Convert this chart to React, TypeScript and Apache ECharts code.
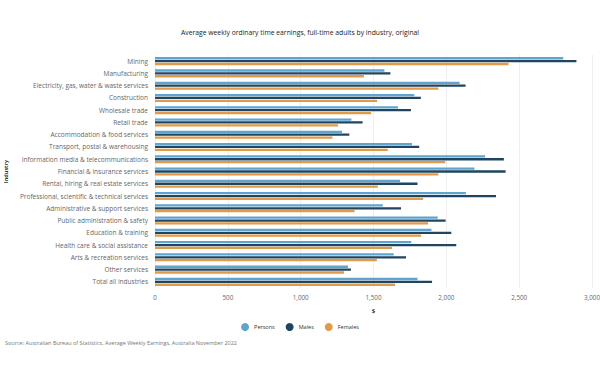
import React, { useEffect, useRef } from "react";
import * as echarts from "echarts";

const industries = [
  "Mining",
  "Manufacturing",
  "Electricity, gas, water & waste services",
  "Construction",
  "Wholesale trade",
  "Retail trade",
  "Accommodation & food services",
  "Transport, postal & warehousing",
  "Information media & telecommunications",
  "Financial & insurance services",
  "Rental, hiring & real estate services",
  "Professional, scientific & technical services",
  "Administrative & support services",
  "Public administration & safety",
  "Education & training",
  "Health care & social assistance",
  "Arts & recreation services",
  "Other services",
  "Total all industries",
];

const persons = [2802, 1575, 2091, 1780, 1668, 1348, 1284, 1764, 2266, 2193, 1682, 2134, 1564, 1941, 1898, 1759, 1639, 1325, 1802];
const males = [2893, 1616, 2132, 1825, 1757, 1425, 1334, 1814, 2395, 2407, 1802, 2341, 1689, 1995, 2034, 2068, 1723, 1345, 1902];
const females = [2427, 1434, 1945, 1525, 1484, 1257, 1218, 1598, 1993, 1945, 1530, 1841, 1370, 1875, 1827, 1627, 1523, 1298, 1648];

const FONT = "Open Sans";

export default function App() {
  const ref = useRef<HTMLDivElement>(null);
  useEffect(() => {
    if (!ref.current) return;
    document.body.style.margin = "0";
    const chart = echarts.init(ref.current, null, { renderer: "svg" });
    const bar = (name: string, data: number[], color: string) => ({
      name,
      type: "bar",
      data,
      barWidth: 2.3,
      barGap: "25%",
      itemStyle: { color },
    });
    chart.setOption({
      animation: false,
      backgroundColor: "#ffffff",
      textStyle: { fontFamily: FONT },
      title: {
        text: "Average weekly ordinary time earnings, full-time adults by industry, original",
        left: "center",
        top: 24,
        textStyle: { fontSize: 6.8, fontWeight: "normal", color: "#222", fontFamily: FONT },
      },
      legend: {
        bottom: 39,
        left: "center",
        icon: "circle",
        itemWidth: 8,
        itemHeight: 8,
        itemGap: 11,
        textStyle: { fontSize: 5.5, color: "#333", fontFamily: FONT },
        data: ["Persons", "Males", "Females"],
      },
      graphic: [
        {
          type: "text",
          left: 5,
          top: 340,
          style: {
            text: "Source: Australian Bureau of Statistics, Average Weekly Earnings, Australia November 2022",
            fontSize: 5.5,
            fill: "#777",
            fontFamily: FONT,
          },
        },
      ],
      grid: { left: 155, right: 8, top: 55, bottom: 87, containLabel: false, outerBoundsMode: "none" },
      xAxis: {
        type: "value",
        min: 0,
        max: 3000,
        interval: 500,
        name: "$",
        nameLocation: "middle",
        nameGap: 20,
        nameTextStyle: { fontSize: 6, color: "#333", fontWeight: "bold" },
        axisLine: { show: false },
        axisTick: { show: false },
        axisLabel: {
          fontSize: 6.3,
          color: "#666",
          margin: 6,
          formatter: (v: number) => v.toLocaleString("en-US"),
        },
        splitLine: { lineStyle: { color: "#eeeeee", width: 1 } },
      },
      yAxis: {
        type: "category",
        inverse: true,
        data: industries,
        name: "Industry",
        nameLocation: "middle",
        nameGap: 144,
        nameRotate: 90,
        nameTextStyle: { fontSize: 5.5, color: "#333", fontWeight: "bold" },
        axisLine: { show: false },
        axisTick: { show: false },
        axisLabel: { fontSize: 6.5, color: "#666", margin: 7 },
      },
      series: [
        bar("Persons", persons, "#5ea4cf"),
        bar("Males", males, "#1f4560"),
        bar("Females", females, "#e39a48"),
      ],
    });
    return () => chart.dispose();
  }, []);
  return <div ref={ref} style={{ width: 600, height: 375 }} />;
}
